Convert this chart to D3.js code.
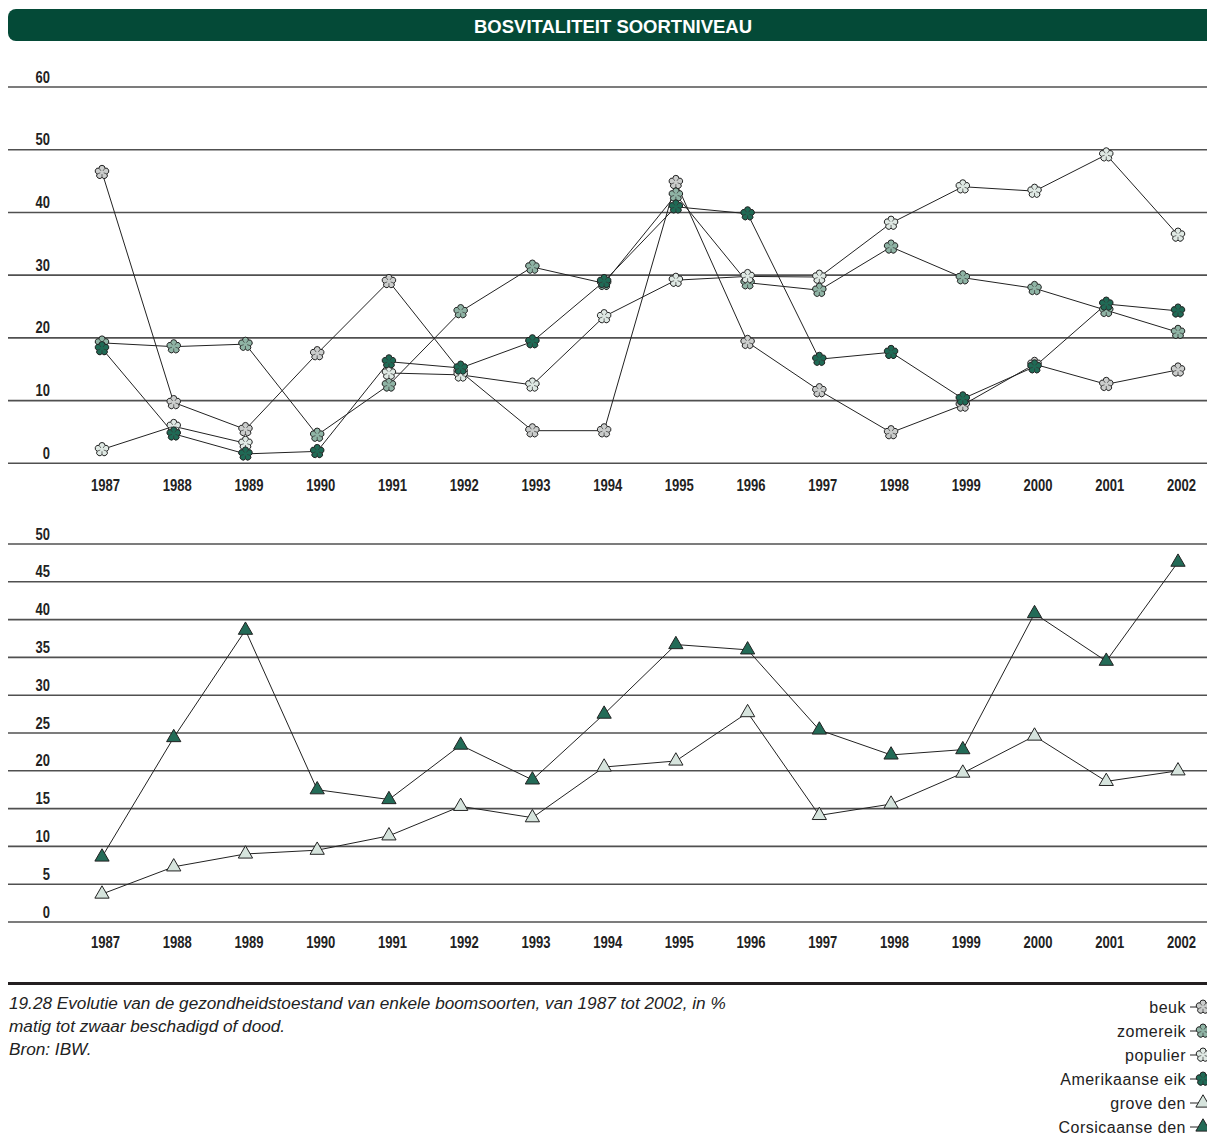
<!DOCTYPE html>
<html>
<head>
<meta charset="utf-8">
<script src="https://cdn.jsdelivr.net/npm/d3@7"></script>
<style>
  body { margin: 0; background: #fff; }
  .narrow { font-family: "Liberation Sans", Arial, sans-serif; font-weight: bold; }
  .regular { font-family: "Liberation Sans", Arial, sans-serif; }
</style>
</head>
<body>
<svg id="chart" width="1207" height="1142"></svg>
<script>
// values (% matig tot zwaar beschadigd of dood)
const years = [1987, 1988, 1989, 1990, 1991, 1992, 1993, 1994, 1995, 1996, 1997, 1998, 1999, 2000, 2001, 2002];

const beuk = [46.4, 9.7, 5.4, 17.5, 29.0, 14.6, 5.2, 5.2, 44.8, 19.3, 11.6, 4.9, 9.3, 15.8, 12.6, 14.9];
const zomereik = [19.2, 18.6, 19.0, 4.5, 12.5, 24.2, 31.3, 28.7, 42.8, 28.8, 27.6, 34.5, 29.6, 27.9, 24.4, 20.9];
const populier = [2.2, 5.9, 3.2, null, 14.4, 14.1, 12.5, 23.4, 29.2, 29.8, 29.7, 38.3, 44.1, 43.4, 49.2, 36.4];
const amerikaanseEik = [18.3, 4.7, 1.5, 1.9, 16.2, 15.2, 19.4, 29.0, 40.9, 39.8, 16.6, 17.7, 10.3, 15.4, 25.4, 24.3];

const groveDen = [3.7, 7.3, 9.0, 9.5, 11.4, 15.3, 13.8, 20.5, 21.3, 27.7, 14.1, 15.6, 19.7, 24.6, 18.6, 20.0];
const corsicaanseDen = [8.6, 24.4, 38.6, 17.5, 16.2, 23.4, 18.8, 27.5, 36.7, 36.0, 25.4, 22.1, 22.8, 40.8, 34.5, 47.6];

const topTicks = [0, 10, 20, 30, 40, 50, 60];
const bottomTicks = [0, 5, 10, 15, 20, 25, 30, 35, 40, 45, 50];

const title = "BOSVITALITEIT SOORTNIVEAU";
const captionLines = [
  "19.28  Evolutie van de gezondheidstoestand van enkele boomsoorten, van 1987 tot 2002, in %",
  "matig tot zwaar beschadigd of dood.",
  "Bron: IBW."
];

const topSeries = [
  {name: "beuk", values: beuk, fill: "#cbcdcc", shape: "flower"},
  {name: "zomereik", values: zomereik, fill: "#8fb4a5", shape: "flower"},
  {name: "populier", values: populier, fill: "#dfe9e4", shape: "flower"},
  {name: "Amerikaanse eik", values: amerikaanseEik, fill: "#1f6a55", shape: "flower"}
];
const bottomSeries = [
  {name: "grove den", values: groveDen, fill: "#d6e4dd", shape: "triangle"},
  {name: "Corsicaanse den", values: corsicaanseDen, fill: "#236b57", shape: "triangle"}
];

const svg = d3.select("#chart");
const W = 1207;

// title bar
svg.append("rect")
  .attr("x", 8).attr("y", 9)
  .attr("width", 1230).attr("height", 32)
  .attr("rx", 8)
  .attr("fill", "#044a37");
svg.append("text")
  .attr("class", "narrow")
  .attr("x", 613).attr("y", 32.5)
  .attr("text-anchor", "middle")
  .attr("font-size", 19)
  .attr("textLength", 278)
  .attr("lengthAdjust", "spacingAndGlyphs")
  .attr("fill", "#fff")
  .text(title);

const x = d3.scalePoint().domain(years).range([102, 1178]);
const yTop = d3.scaleLinear().domain([0, 60]).range([463.3, 87]);
const yBot = d3.scaleLinear().domain([0, 50]).range([922, 544]);

// flower marker: five overlapping petals, outline only
function flowerPath(d0, r) {
  const a36 = Math.PI / 5;
  const t = d0 * Math.cos(a36) + Math.sqrt(r * r - Math.pow(d0 * Math.sin(a36), 2));
  const alpha = Math.atan2(t * Math.sin(a36), t * Math.cos(a36) - d0);
  const large = alpha > Math.PI / 2 ? 1 : 0;
  let s = "";
  for (let k = 0; k < 5; k++) {
    const th = -Math.PI / 2 + k * 2 * Math.PI / 5;
    const p0 = [t * Math.cos(th - a36), t * Math.sin(th - a36)];
    const p1 = [t * Math.cos(th + a36), t * Math.sin(th + a36)];
    if (k === 0) s += `M${p0[0]},${p0[1]}`;
    s += `A${r},${r} 0 ${large} 1 ${p1[0]},${p1[1]}`;
  }
  return s + "Z";
}
function flowerInner(d0, r) {
  const a36 = Math.PI / 5;
  const t = d0 * Math.cos(a36) + Math.sqrt(r * r - Math.pow(d0 * Math.sin(a36), 2));
  let s = "";
  for (let k = 0; k < 5; k++) {
    const ph = -Math.PI / 2 + k * 2 * Math.PI / 5 + a36;
    s += `M${t * Math.cos(ph)},${t * Math.sin(ph)}L${1.8 * Math.cos(ph)},${1.8 * Math.sin(ph)}`;
  }
  return s;
}
const FLOWER = flowerPath(4, 3);
const FLOWER_IN = flowerInner(4, 3);
const TRIANGLE = d3.symbol().type(d3.symbolTriangle).size(88)();

function drawMarker(g, shape, fill) {
  if (shape === "flower") {
    g.append("path").attr("d", FLOWER).attr("fill", fill).attr("stroke", "#222").attr("stroke-width", 1);
    g.append("path").attr("d", FLOWER_IN).attr("fill", "none").attr("stroke", "#333").attr("stroke-width", 0.7);
  } else {
    g.append("path").attr("d", TRIANGLE).attr("fill", fill).attr("stroke", "#222").attr("stroke-width", 1);
  }
}

function drawPanel(yScale, ticks, series, labelY) {
  const grid = svg.append("g");
  grid.selectAll("line")
    .data(ticks)
    .join("line")
    .attr("x1", 8).attr("x2", W)
    .attr("y1", d => yScale(d)).attr("y2", d => yScale(d))
    .attr("stroke", "#505050")
    .attr("stroke-width", 1.6);
  grid.selectAll("text")
    .data(ticks)
    .join("text")
    .attr("class", "narrow")
    .attr("x", 50)
    .attr("y", d => yScale(d) - 4.5)
    .attr("text-anchor", "end")
    .attr("font-size", 16.5)
    .attr("textLength", d => String(d).length * 7.2)
    .attr("lengthAdjust", "spacingAndGlyphs")
    .attr("fill", "#222")
    .text(d => d);

  // year axis
  const xAxis = svg.append("g")
    .attr("transform", `translate(3,${labelY})`)
    .call(d3.axisBottom(x).tickSize(0).tickPadding(0));
  xAxis.select(".domain").remove();
  xAxis.selectAll("text")
    .attr("class", "narrow")
    .attr("dy", "0.35em")
    .attr("font-size", 16.5)
    .attr("textLength", 29)
    .attr("lengthAdjust", "spacingAndGlyphs")
    .attr("fill", "#222");

  const line = d3.line()
    .defined(d => d != null)
    .x((d, i) => x(years[i]))
    .y(d => yScale(d));

  svg.append("g").selectAll("path")
    .data(series)
    .join("path")
    .attr("d", s => line(s.values))
    .attr("fill", "none")
    .attr("stroke", "#222")
    .attr("stroke-width", 1);

  series.forEach(s => {
    const pts = svg.append("g").selectAll("g")
      .data(s.values.map((v, i) => ({v, year: years[i]})).filter(d => d.v != null))
      .join("g")
      .attr("transform", d => `translate(${x(d.year)},${yScale(d.v)})`);
    pts.each(function() { drawMarker(d3.select(this), s.shape, s.fill); });
  });
}

drawPanel(yTop, topTicks, topSeries, 485);
drawPanel(yBot, bottomTicks, bottomSeries, 942);

// separator
svg.append("line")
  .attr("x1", 8).attr("x2", W)
  .attr("y1", 983.5).attr("y2", 983.5)
  .attr("stroke", "#231f20")
  .attr("stroke-width", 3);

// caption
svg.append("g").selectAll("text")
  .data(captionLines)
  .join("text")
  .attr("class", "regular")
  .attr("x", 9)
  .attr("y", (d, i) => 1009 + i * 23)
  .attr("font-size", 17.2)
  .attr("font-style", "italic")
  .attr("fill", "#222")
  .text(d => d);

// legend (markers run off the right edge, as in the original)
const legendItems = topSeries.concat(bottomSeries);
const lg = svg.append("g").selectAll("g")
  .data(legendItems)
  .join("g")
  .attr("transform", (d, i) => `translate(0,${1007 + i * 24})`);
lg.append("text")
  .attr("class", "regular")
  .attr("x", 1186)
  .attr("dy", "0.35em")
  .attr("text-anchor", "end")
  .attr("font-size", 16)
  .attr("letter-spacing", 0.5)
  .attr("fill", "#222")
  .text(d => d.name);
lg.append("line")
  .attr("x1", 1190).attr("x2", 1207)
  .attr("stroke", "#222").attr("stroke-width", 1);
lg.each(function(d) {
  const m = d3.select(this).append("g").attr("transform", "translate(1203,0)");
  drawMarker(m, d.shape, d.fill);
});
</script>
</body>
</html>
